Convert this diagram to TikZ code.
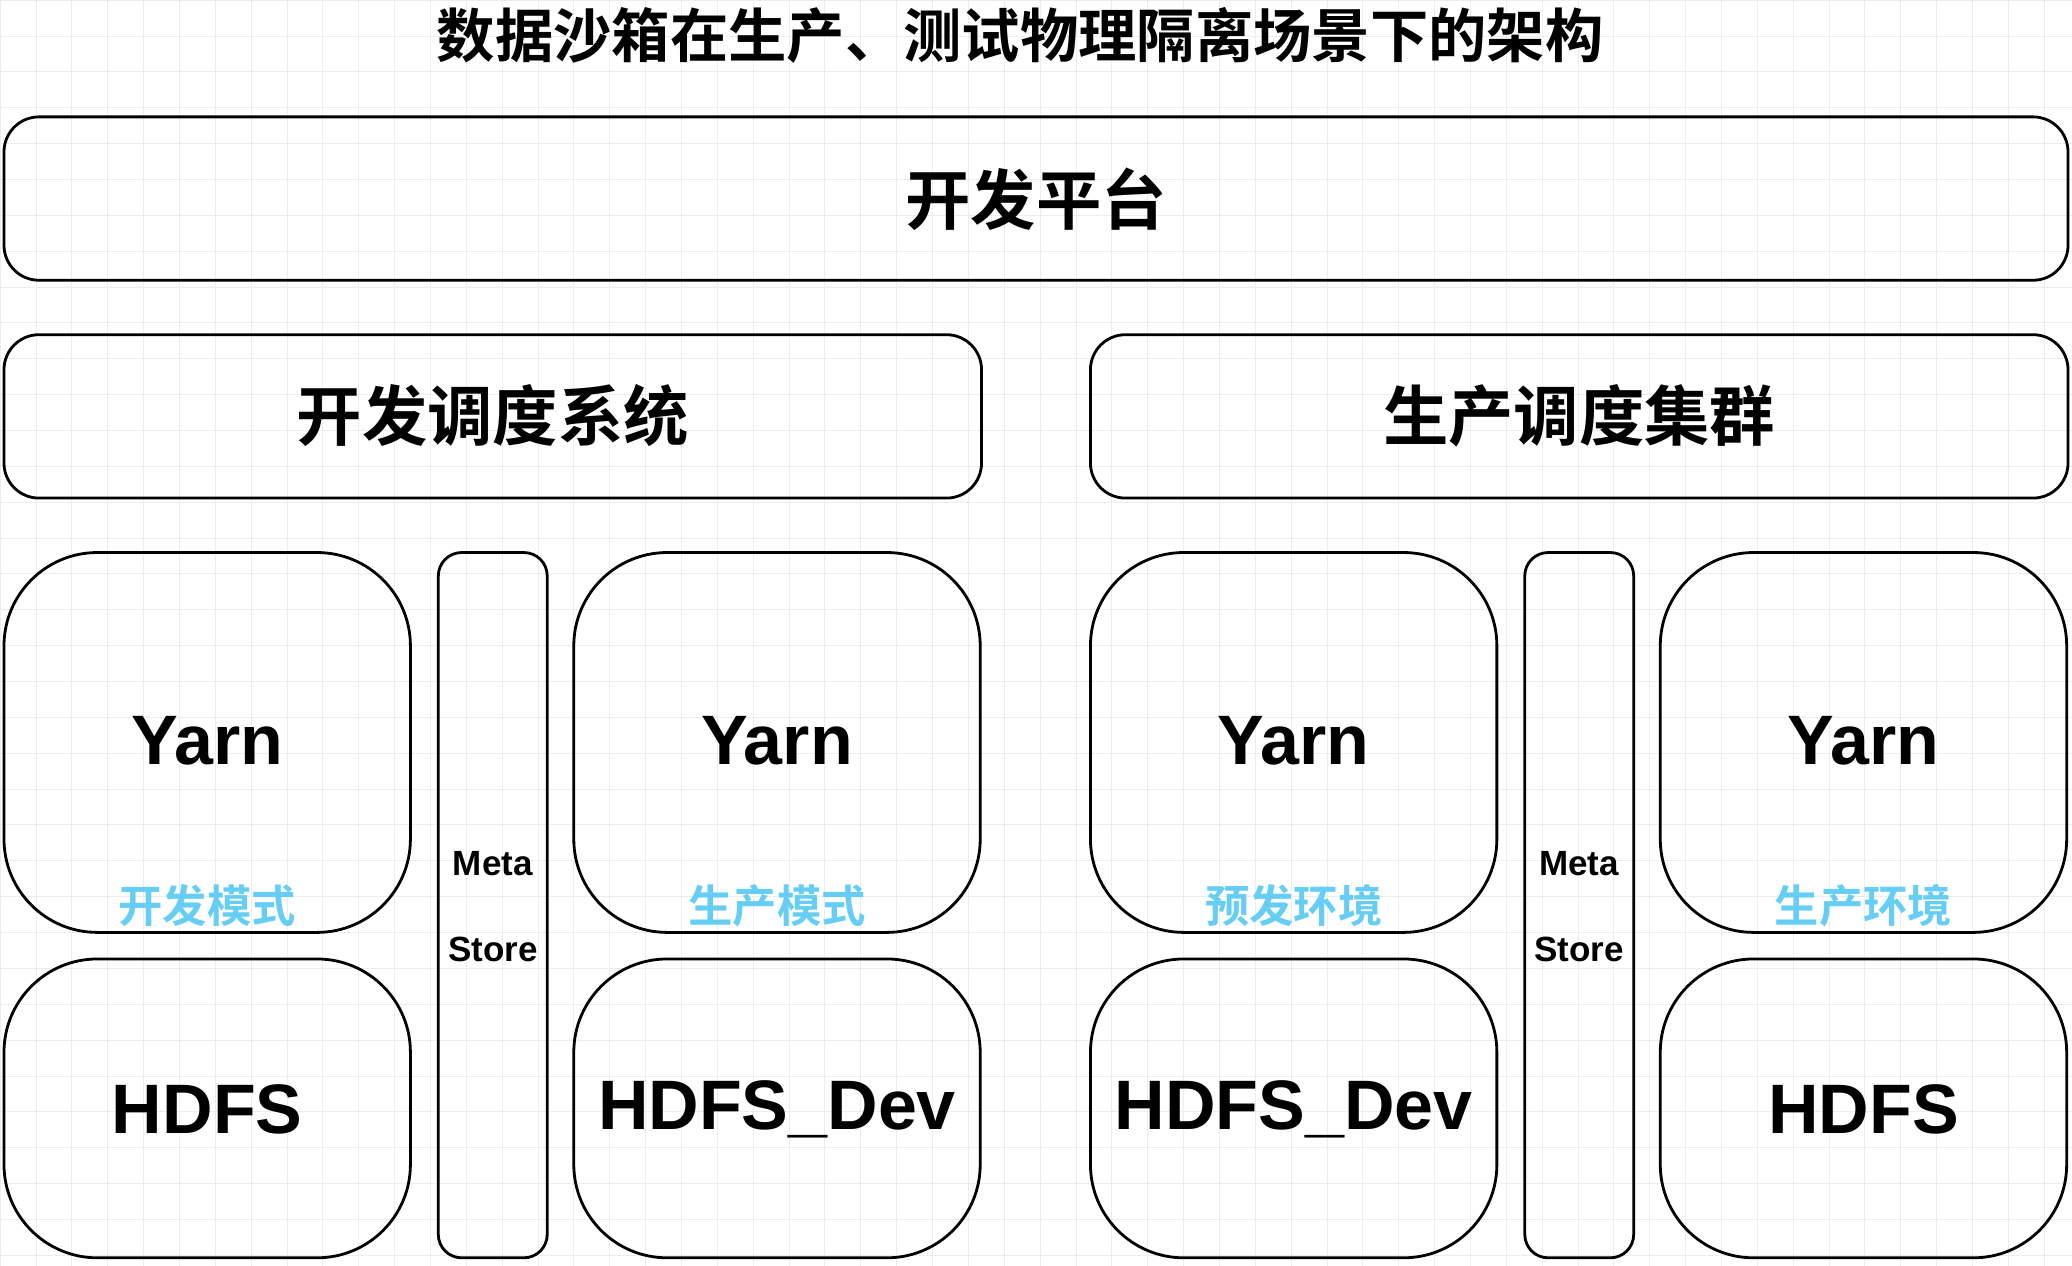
\documentclass[tikz,border=0pt]{standalone}
\usepackage{fontspec}
\setmainfont{Liberation Sans}
\newfontfamily\cjk{Noto Sans CJK SC}[BoldFont={Noto Sans CJK SC Bold}]
\begin{document}
\begin{tikzpicture}[x=0.02cm,y=-0.02cm,
  box/.style={draw=black,line width=1.2pt,rounded corners=#1},
  big/.style={font=\fontsize{30}{34}\selectfont\bfseries},
  zh/.style={font=\cjk\bfseries\fontsize{28}{32}\selectfont},
  lab/.style={font=\cjk\bfseries\fontsize{19}{22}\selectfont,text=cyan!60!white},
  ms/.style={font=\fontsize{15}{18}\selectfont\bfseries}]
\fill[white] (0,0) rectangle (1560,953);
\useasboundingbox (0,0) rectangle (1560,953);
\foreach \i in {0,...,58} {\draw[black!7,line width=0.3pt] (\i*27,0) -- (\i*27,953);}
\foreach \i in {0,...,35} {\draw[black!7,line width=0.3pt] (0,\i*27) -- (1560,\i*27);}
\node[font=\cjk\bfseries\fontsize{25}{28}\selectfont] (title) at (768,27) {数据沙箱在生产、测试物理隔离场景下的架构};
\draw[box=15pt] (3,88) rectangle (1557,211);
\node[zh] (plat) at (780,150) {开发平台};
\draw[box=15pt] (3,252) rectangle (739,375);
\node[zh] (devs) at (371,313) {开发调度系统};
\draw[box=15pt] (821,252) rectangle (1557,375);
\node[zh] (prods) at (1189,313) {生产调度集群};
\foreach \x/\lbl/\h/\n in {3/开发模式/HDFS/a,432/生产模式/HDFS\_Dev/b,821/预发环境/HDFS\_Dev/c,1250/生产环境/HDFS/d}{
  \draw[box=40pt] (\x,416) rectangle (\x+306,702);
  \node[big] (yarn\n) at (\x+153,558) {Yarn};
  \node[lab] (lab\n) at (\x+153,682) {\lbl};
  \draw[box=40pt] (\x,722) rectangle (\x+306,947);
  \node[big] (hdfs\n) at (\x+153,835) {\h};
}
\foreach \x/\n in {330/a,1148/b}{
  \draw[box=10pt] (\x,416) rectangle (\x+82,947);
  \node[ms] (meta\n) at (\x+41,650) {Meta};
  \node[ms] (store\n) at (\x+41,715) {Store};
}
\end{tikzpicture}
\end{document}
